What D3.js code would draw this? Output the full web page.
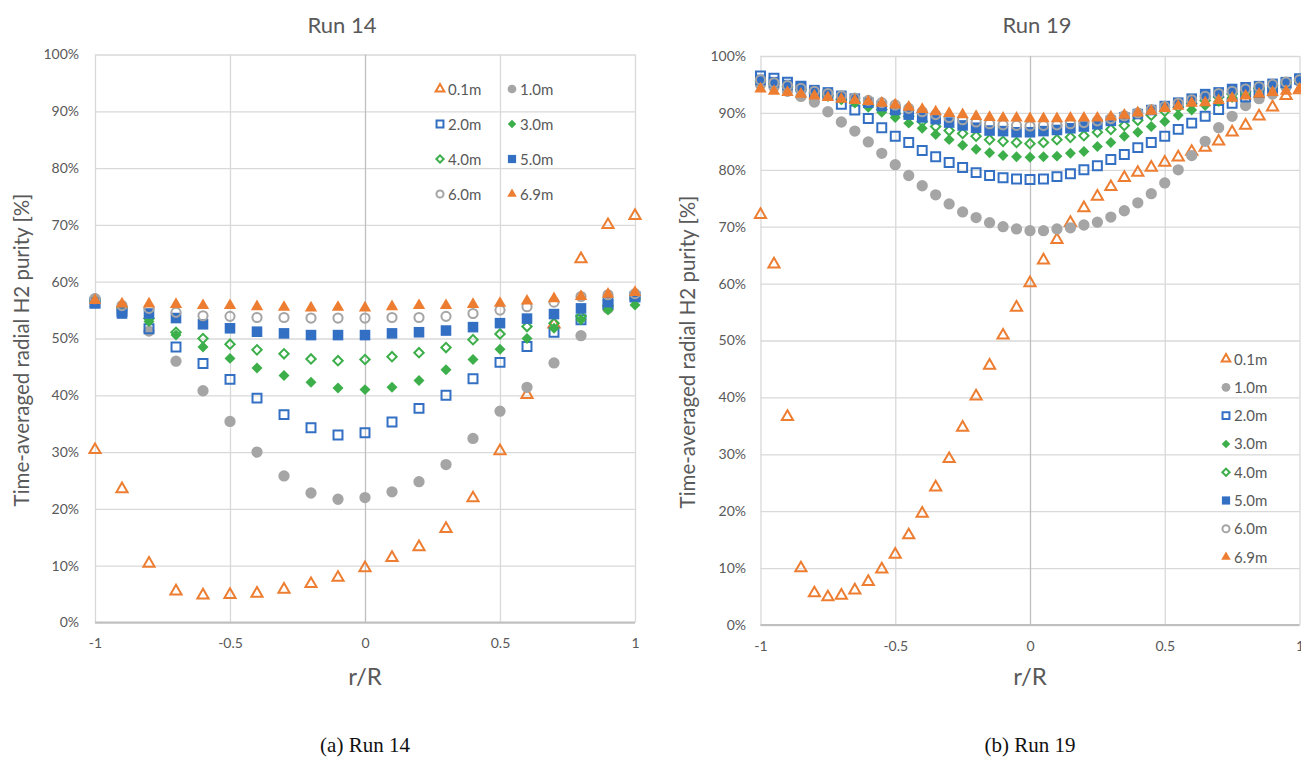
<!DOCTYPE html>
<html><head><meta charset="utf-8">
<script src="https://cdn.jsdelivr.net/npm/d3@7"></script>
<style>body{margin:0;background:#fff}svg{display:block}</style>
</head><body><svg id="c" width="1301" height="758"></svg>
<script>
// ---------- DATA ----------
const seriesNames = ["0.1m","1.0m","2.0m","3.0m","4.0m","5.0m","6.0m","6.9m"];
const xTicks = [-1,-0.5,0,0.5,1];
const xTickLabels = ["-1","-0.5","0","0.5","1"];
const yTicks = [0,10,20,30,40,50,60,70,80,90,100];
const yTickLabels = ["0%","10%","20%","30%","40%","50%","60%","70%","80%","90%","100%"];

// Run 14 (r/R step 0.1)
const r14 = [-1,-0.9,-0.8,-0.7,-0.6,-0.5,-0.4,-0.3,-0.2,-0.1,0,0.1,0.2,0.3,0.4,0.5,0.6,0.7,0.8,0.9,1];
const run14_01 = [30.4,23.5,10.4,5.5,4.8,4.9,5.1,5.8,6.8,7.9,9.6,11.4,13.3,16.5,21.9,30.2,40.1,52.5,64.0,70.0,71.6];
const run14_10 = [57.0,55.0,51.3,46.0,40.8,35.4,30.0,25.8,22.8,21.7,22.0,23.0,24.8,27.8,32.4,37.2,41.4,45.7,50.5,55.3,57.2];
const run14_20 = [56.2,54.8,51.7,48.5,45.6,42.8,39.5,36.6,34.3,33.0,33.4,35.3,37.7,40.0,42.9,45.8,48.6,51.1,53.3,56.0,57.3];
const run14_30 = [56.5,54.5,53.0,50.6,48.5,46.5,44.8,43.5,42.3,41.3,41.0,41.4,42.6,44.5,46.3,48.1,50.0,51.8,53.3,55.0,55.9];
const run14_40 = [56.6,55.5,53.5,51.1,50.0,49.0,48.0,47.3,46.4,46.1,46.3,46.8,47.5,48.4,49.8,50.8,52.1,52.7,53.9,55.8,57.0];
const run14_50 = [56.3,54.4,54.4,53.6,52.5,51.8,51.2,50.9,50.6,50.6,50.6,50.9,51.1,51.4,52.0,52.7,53.5,54.3,55.3,56.4,57.4];
const run14_60 = [57.0,55.8,55.3,54.6,54.0,53.9,53.7,53.7,53.6,53.6,53.6,53.7,53.7,53.9,54.4,55.0,55.6,56.4,57.4,57.7,57.9];
const run14_69 = [56.7,56.1,56.1,56.0,55.8,55.8,55.6,55.5,55.4,55.5,55.4,55.6,55.8,55.8,56.0,56.2,56.6,57.0,57.4,57.8,58.1];

// Run 19 (r/R step 0.05)
const r19 = [-1,-0.95,-0.9,-0.85,-0.8,-0.75,-0.7,-0.65,-0.6,-0.55,-0.5,-0.45,-0.4,-0.35,-0.3,-0.25,-0.2,-0.15,-0.1,-0.05,0,
             0.05,0.1,0.15,0.2,0.25,0.3,0.35,0.4,0.45,0.5,0.55,0.6,0.65,0.7,0.75,0.8,0.85,0.9,0.95,1];
const run19_01 = [72.1,63.4,36.6,10.0,5.6,4.9,5.2,6.1,7.6,9.8,12.4,15.8,19.6,24.2,29.2,34.7,40.2,45.6,50.9,55.8,60.1,
                  64.1,67.7,70.7,73.3,75.3,77.0,78.6,79.5,80.4,81.3,82.2,83.2,83.9,85.0,86.6,87.8,89.4,91.0,93.0,94.0];
const run19_10 = [95.0,94.5,93.8,92.9,91.9,90.2,88.4,86.8,84.9,82.9,80.9,79.0,77.2,75.6,74.0,72.6,71.6,70.7,70.0,69.6,69.3,
                  69.3,69.6,69.8,70.3,70.8,71.7,72.8,74.2,75.8,77.7,80.0,82.5,85.0,87.4,89.4,91.3,92.5,93.3,94.5,95.5];
const run19_20 = [96.5,96.1,95.4,94.7,93.6,93.1,91.5,90.5,89.0,87.4,85.9,84.8,83.4,82.3,81.3,80.4,79.5,79.0,78.6,78.4,78.3,
                  78.4,78.8,79.3,80.0,80.7,81.8,82.7,83.9,84.8,85.9,87.1,88.2,89.4,90.6,91.7,92.8,93.6,94.4,95.3,96.0];
const run19_30 = [95.5,95.0,94.5,94.0,93.5,93.0,92.4,91.8,91.0,90.1,89.2,88.2,87.3,86.2,85.3,84.3,83.6,83.0,82.5,82.3,82.2,
                  82.3,82.4,82.9,83.2,84.1,84.8,85.9,86.6,87.6,88.5,89.6,90.5,91.3,92.0,92.7,93.3,94.0,94.5,95.0,95.5];
const run19_40 = [95.6,95.1,94.6,94.1,93.5,93.0,92.4,91.9,91.3,90.6,89.9,89.4,88.5,87.6,86.9,86.4,85.9,85.3,85.0,84.8,84.6,
                  84.8,85.3,85.7,86.0,86.6,87.1,87.8,88.7,89.6,90.3,91.0,91.6,92.2,92.8,93.3,93.8,94.3,94.8,95.3,95.8];
const run19_50 = [95.8,95.4,94.9,94.5,94.0,93.6,93.0,92.5,91.8,91.2,90.5,89.7,89.2,88.9,88.3,87.8,87.4,86.9,86.8,86.6,86.6,
                  86.8,87.0,87.3,87.6,88.0,88.6,89.2,89.8,90.5,91.2,91.8,92.5,93.3,93.6,94.2,94.5,94.7,95.1,95.4,95.9];
const run19_60 = [95.8,95.3,94.8,94.3,93.8,93.4,93.0,92.6,92.2,91.8,91.4,90.8,90.2,89.7,89.2,88.8,88.4,88.1,87.9,87.8,87.7,
                  87.8,87.9,88.1,88.3,88.6,89.0,89.5,90.0,90.6,91.1,91.7,92.3,92.9,93.4,93.8,94.2,94.6,95.0,95.4,95.8];
const run19_69 = [94.2,93.8,93.6,93.3,93.0,92.7,92.4,92.2,92.0,91.7,91.4,91.0,90.6,90.2,89.9,89.7,89.4,89.2,89.1,89.1,89.0,
                  89.0,89.0,89.1,89.1,89.1,89.3,89.6,90.0,90.3,90.8,91.2,91.7,91.8,92.2,92.6,93.0,93.3,93.6,93.8,94.2];

// ---------- STYLES ----------
const C_OR = "#ED7D31", C_GR = "#A5A5A5", C_BL = "#3370C4", C_GN = "#3DAF4A";
const styles = [
  {shape:"tri",  color:C_OR, fill:false},
  {shape:"circ", color:C_GR, fill:true},
  {shape:"sq",   color:C_BL, fill:false},
  {shape:"dia",  color:C_GN, fill:true},
  {shape:"dia",  color:C_GN, fill:false},
  {shape:"sq",   color:C_BL, fill:true},
  {shape:"circ", color:C_GR, fill:false},
  {shape:"tri",  color:C_OR, fill:true}
];
const TXT = "#595959", GRID = "#D9D9D9", AXIS = "#BFBFBF";
const FONT = "Lato, 'Open Sans', sans-serif";

const svg = d3.select("#c");

function symbolPath(shape, scale, filled) {
  const k = scale;
  if (shape === "tri") return d3.symbol(d3.symbolTriangle, (filled ? 66 : 54) * k)();
  if (shape === "circ") return d3.symbol(d3.symbolCircle, (filled ? 100 : 66) * k)();
  if (shape === "sq") return d3.symbol(d3.symbolSquare, (filled ? 112 : 80) * k)();
  if (shape === "dia") return d3.symbol(d3.symbolSquare, (filled ? 60 : 44) * k)();
}

function drawMarker(g, st, scale) {
  const p = g.append("path")
    .attr("d", symbolPath(st.shape, scale, st.fill))
    .attr("fill", st.fill ? st.color : "none")
    .attr("stroke", st.color)
    .attr("stroke-width", st.fill ? 0 : 2);
  if (st.shape === "dia") p.attr("transform", "rotate(45)");
  return p;
}

function chart(cfg) {
  const x = d3.scaleLinear().domain([-1, 1]).range([cfg.x0, cfg.x1]);
  const y = d3.scaleLinear().domain([0, 100]).range([cfg.y0, cfg.y1]);
  const g = svg.append("g");

  g.append("g").call(d3.axisLeft(y).tickValues(yTicks).tickSize(-(cfg.x1 - cfg.x0)).tickFormat((d,i)=>yTickLabels[i]))
    .attr("transform", `translate(${cfg.x0},0)`)
    .call(a => {
      a.select(".domain").remove();
      a.selectAll(".tick line").attr("stroke", GRID).attr("stroke-width", 1.3);
      a.selectAll(".tick text").attr("fill", TXT).attr("font-family", FONT).attr("font-size", 14)
        .attr("x", -(cfg.x0 - cfg.yLabelRight));
    });

  g.append("g").call(d3.axisBottom(x).tickValues(xTicks).tickSize(-(cfg.y0 - cfg.y1)).tickFormat((d,i)=>xTickLabels[i]))
    .attr("transform", `translate(0,${cfg.y0})`)
    .call(a => {
      a.select(".domain").remove();
      a.selectAll(".tick line").attr("stroke", d => d === 0 ? AXIS : GRID).attr("stroke-width", 1.3);
      a.selectAll(".tick text").attr("fill", TXT).attr("font-family", FONT).attr("font-size", 14)
        .attr("y", 16);
    });

  g.append("line").attr("x1", cfg.x0).attr("x2", cfg.x1).attr("y1", cfg.y0).attr("y2", cfg.y0)
    .attr("stroke", AXIS).attr("stroke-width", 2);

  cfg.series.forEach((vals, si) => {
    const st = styles[si];
    const sg = g.append("g");
    vals.forEach((v, i) => {
      const m = sg.append("g").attr("transform", `translate(${x(cfg.r[i])},${y(v)})`);
      drawMarker(m, st, 1);
    });
  });

  svg.append("text").attr("x", cfg.titleX).attr("y", 33).attr("text-anchor", "middle")
    .attr("font-family", FONT).attr("font-size", 22).attr("fill", TXT).text(cfg.title);
  svg.append("text").attr("x", (cfg.x0 + cfg.x1) / 2).attr("y", 685).attr("text-anchor", "middle")
    .attr("font-family", FONT).attr("font-size", 24).attr("fill", TXT).text("r/R");
  svg.append("text").attr("transform", `translate(${cfg.yTitleX},${cfg.yTitleY}) rotate(-90)`)
    .attr("text-anchor", "middle").attr("font-family", FONT).attr("font-size", 20.5).attr("fill", TXT)
    .text("Time-averaged radial H2 purity [%]");
  svg.append("text").attr("x", (cfg.x0 + cfg.x1) / 2).attr("y", 752).attr("text-anchor", "middle")
    .attr("font-family", "'Liberation Serif', 'Times New Roman', serif").attr("font-size", 21).attr("fill", "#111")
    .text(cfg.caption);

  const lg = svg.append("g");
  seriesNames.forEach((name, i) => {
    const pos = cfg.legendPos(i);
    const m = lg.append("g").attr("transform", `translate(${pos[0]},${pos[1]})`);
    drawMarker(m, styles[i], 0.6);
    lg.append("text").attr("x", pos[0] + 8).attr("y", pos[1] + 5.5)
      .attr("font-family", FONT).attr("font-size", 15).attr("fill", TXT).text(name);
  });
}

chart({
  x0: 95, x1: 635, y0: 622.5, y1: 54.5, yLabelRight: 79,
  r: r14, series: [run14_01, run14_10, run14_20, run14_30, run14_40, run14_50, run14_60, run14_69],
  title: "Run 14", titleX: 342, yTitleX: 29, yTitleY: 350, caption: "(a) Run 14",
  legendPos: i => [i % 2 === 0 ? 440 : 512, 89 + Math.floor(i / 2) * 35]
});
chart({
  x0: 760.5, x1: 1299.5, y0: 625, y1: 56, yLabelRight: 746,
  r: r19, series: [run19_01, run19_10, run19_20, run19_30, run19_40, run19_50, run19_60, run19_69],
  title: "Run 19", titleX: 1037, yTitleX: 695, yTitleY: 352, caption: "(b) Run 19",
  legendPos: i => [1226, 359 + i * 28.3]
});
</script></body></html>
